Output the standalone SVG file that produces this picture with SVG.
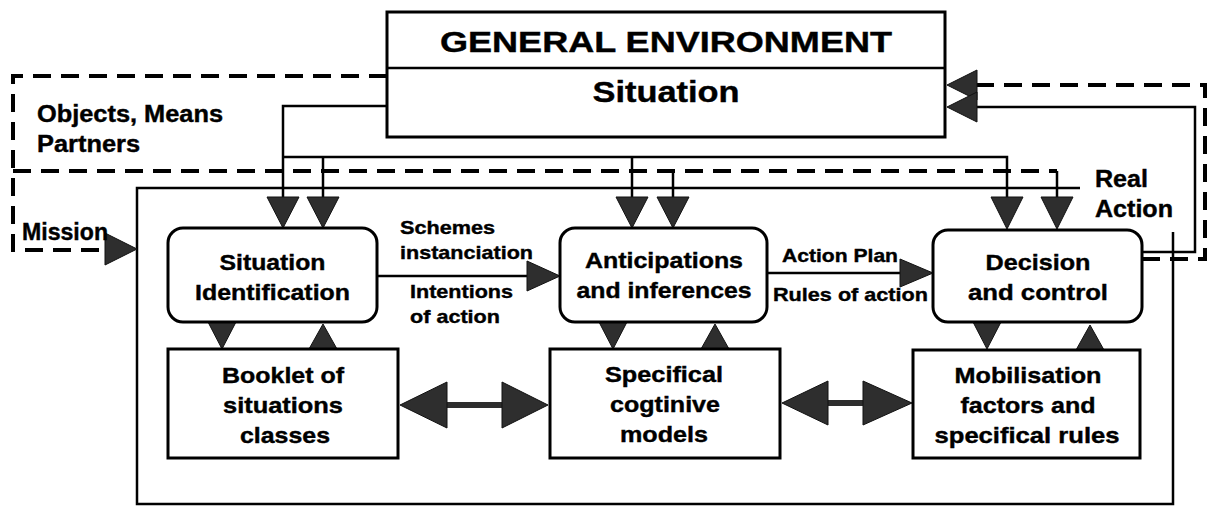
<svg xmlns="http://www.w3.org/2000/svg" width="1207" height="507" viewBox="0 0 1207 507">
<style>
text{font-family:"Liberation Sans",Arial,sans-serif;font-weight:bold;fill:#000;stroke:#000;stroke-width:0.4}
.big{font-size:29px}
.lab{font-size:23px}
.sm{font-size:19px}
.nt{font-size:22px;text-anchor:middle}
.box{fill:#fff;stroke:#000;stroke-width:3}
.ln{fill:none;stroke:#000;stroke-width:2.5}
.dash{fill:none;stroke:#000;stroke-width:4;stroke-dasharray:18 10}
.ah{fill:#2e2e2e;stroke:#111;stroke-width:1}
.shaft{stroke:#2e2e2e;stroke-width:6}
</style>
<rect width="1207" height="507" fill="#fff"/>

<g id="connectors">
  <path class="ln" d="M1080,188 H137 V504 H1173 V232" stroke-width="3"/>
  <path class="ln" d="M387,106 H283 V198"/>
  <path class="ln" d="M283,157 H1007 V198"/>
  <path class="ln" d="M323,157 V198"/>
  <path class="ln" d="M632,157 V198"/>
  <path class="dash" d="M387,76 H13 V250 H105"/>
  <path class="dash" d="M13,171 H1057"/>
  <path class="ln" d="M673,171 V198"/>
  <path class="ln" d="M1057,171 V198"/>
  <path class="ln" d="M1142,252 H1195 V107 H977"/>
  <path class="dash" d="M1142,259 H1205 V85 H977"/>
  <path class="ln" d="M377,276 H528"/>
  <path class="ln" d="M767,273 H900"/>
  <line class="shaft" x1="445" y1="405" x2="504" y2="405"/>
  <line class="shaft" x1="826" y1="403" x2="865" y2="403"/>

  <polygon class="ah" points="977,70 977,100 947,85"/>
  <polygon class="ah" points="977,92 977,122 947,107"/>
  <polygon class="ah" points="105,233 105,265 137,249"/>
  <polygon class="ah" points="267,197 299,197 283,228"/>
  <polygon class="ah" points="307,197 339,197 323,228"/>
  <polygon class="ah" points="616,197 648,197 632,228"/>
  <polygon class="ah" points="657,197 689,197 673,228"/>
  <polygon class="ah" points="991,197 1023,197 1007,229"/>
  <polygon class="ah" points="1041,197 1073,197 1057,229"/>
  <polygon class="ah" points="527,261 527,291 560,276"/>
  <polygon class="ah" points="900,259 900,287 933,273"/>
  <polygon class="ah" points="208,322 236,322 222,349"/>
  <polygon class="ah" points="309,349 337,349 323,324"/>
  <polygon class="ah" points="599,322 627,322 613,349"/>
  <polygon class="ah" points="701,349 729,349 715,324"/>
  <polygon class="ah" points="973,322 1001,322 987,349"/>
  <polygon class="ah" points="1076,350 1104,350 1090,325"/>
  <polygon class="ah" points="447,382 447,428 400,405"/>
  <polygon class="ah" points="502,382 502,428 548,405"/>
  <polygon class="ah" points="828,381 828,425 782,403"/>
  <polygon class="ah" points="863,381 863,425 912,403"/>
</g>

<g id="general-environment">
  <rect class="box" x="387" y="12" width="558" height="125"/>
  <line class="ln" x1="387" y1="68" x2="945" y2="68" stroke-width="3"/>
  <text class="big" x="666" y="52" text-anchor="middle" textLength="452" lengthAdjust="spacingAndGlyphs">GENERAL ENVIRONMENT</text>
  <text x="666" y="102" font-size="30" text-anchor="middle" textLength="147" lengthAdjust="spacingAndGlyphs">Situation</text>
</g>

<g id="label-objects">
  <text class="lab" x="37" y="122" textLength="186" lengthAdjust="spacingAndGlyphs">Objects, Means</text>
  <text class="lab" x="37" y="152" textLength="103" lengthAdjust="spacingAndGlyphs">Partners</text>
</g>
<g id="label-mission">
  <text class="lab" x="22" y="240" textLength="86" lengthAdjust="spacingAndGlyphs">Mission</text>
</g>
<g id="label-real-action">
  <text class="lab" x="1095" y="187" textLength="53" lengthAdjust="spacingAndGlyphs">Real</text>
  <text class="lab" x="1095" y="217" textLength="78" lengthAdjust="spacingAndGlyphs">Action</text>
</g>
<g id="label-schemes">
  <text class="sm" x="400" y="234" textLength="95" lengthAdjust="spacingAndGlyphs">Schemes</text>
  <text class="sm" x="400" y="259" textLength="133" lengthAdjust="spacingAndGlyphs">instanciation</text>
  <text class="sm" x="410" y="298" textLength="103" lengthAdjust="spacingAndGlyphs">Intentions</text>
  <text class="sm" x="410" y="323" textLength="90" lengthAdjust="spacingAndGlyphs">of action</text>
</g>
<g id="label-action-plan">
  <text class="sm" x="782" y="262" textLength="116" lengthAdjust="spacingAndGlyphs">Action Plan</text>
  <text class="sm" x="773" y="301" textLength="155" lengthAdjust="spacingAndGlyphs">Rules of action</text>
</g>

<g id="situation-identification">
  <rect class="box" x="168" y="228" width="209" height="94" rx="15"/>
  <text class="nt" x="272.5" y="270" textLength="106" lengthAdjust="spacingAndGlyphs">Situation</text>
  <text class="nt" x="272.5" y="300" textLength="155" lengthAdjust="spacingAndGlyphs">Identification</text>
</g>
<g id="anticipations">
  <rect class="box" x="560" y="228" width="207" height="94" rx="15"/>
  <text class="nt" x="664" y="268" textLength="158" lengthAdjust="spacingAndGlyphs">Anticipations</text>
  <text class="nt" x="664" y="298" textLength="175" lengthAdjust="spacingAndGlyphs">and inferences</text>
</g>
<g id="decision">
  <rect class="box" x="933" y="230" width="209" height="92" rx="15"/>
  <text class="nt" x="1038" y="270" textLength="105" lengthAdjust="spacingAndGlyphs">Decision</text>
  <text class="nt" x="1038" y="300" textLength="140" lengthAdjust="spacingAndGlyphs">and control</text>
</g>
<g id="booklet">
  <rect class="box" x="168" y="349" width="230" height="109"/>
  <text class="nt" x="283" y="383" textLength="122" lengthAdjust="spacingAndGlyphs">Booklet of</text>
  <text class="nt" x="283" y="413" textLength="120" lengthAdjust="spacingAndGlyphs">situations</text>
  <text class="nt" x="285" y="443" textLength="90" lengthAdjust="spacingAndGlyphs">classes</text>
</g>
<g id="specifical-models">
  <rect class="box" x="550" y="349" width="230" height="109"/>
  <text class="nt" x="664" y="382" textLength="118" lengthAdjust="spacingAndGlyphs">Specifical</text>
  <text class="nt" x="665" y="412" textLength="110" lengthAdjust="spacingAndGlyphs">cogtinive</text>
  <text class="nt" x="664" y="442" textLength="88" lengthAdjust="spacingAndGlyphs">models</text>
</g>
<g id="mobilisation">
  <rect class="box" x="913" y="350" width="227" height="108"/>
  <text class="nt" x="1028" y="383" textLength="147" lengthAdjust="spacingAndGlyphs">Mobilisation</text>
  <text class="nt" x="1028" y="413" textLength="135" lengthAdjust="spacingAndGlyphs">factors and</text>
  <text class="nt" x="1027" y="443" textLength="185" lengthAdjust="spacingAndGlyphs">specifical rules</text>
</g>
</svg>
